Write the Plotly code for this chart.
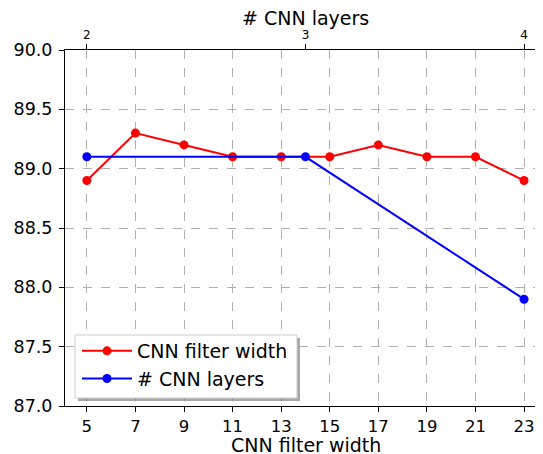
import plotly.graph_objects as go

filter_widths = [5, 7, 9, 11, 13, 15, 17, 19, 21, 23]
filter_scores = [88.9, 89.3, 89.2, 89.1, 89.1, 89.1, 89.2, 89.1, 89.1, 88.9]
layer_counts = [2, 3, 4]
layer_scores = [89.1, 89.1, 87.9]
y_ticks = [87.0, 87.5, 88.0, 88.5, 89.0, 89.5, 90.0]
x_title = "CNN filter width"
x2_title = "# CNN layers"

# page has an 8px body margin; compensate
OFF = 8
W, H = 543 - OFF, 454 - OFF
# desired plot area in page pixels
P_L, P_R, P_T, P_B = 65, 543, 50, 406
ml = P_L - OFF
mr = (W + OFF) - P_R
mt = P_T - OFF
mb = (H + OFF) - P_B
pw = P_R - P_L
ph = P_B - P_T

x_lo, x_hi = 4.1, 23.78


def to_top(v):
    return 2 + (v - 5) / 9.0


def px_x(p):
    return (p - P_L) / pw


def px_y(p):
    return (P_B - p) / ph


font = "DejaVu Sans"

fig = go.Figure()
fig.add_trace(go.Scatter(
    x=filter_widths, y=filter_scores, mode="lines+markers",
    name="CNN filter width", line=dict(color="red", width=2),
    marker=dict(color="red", size=9), xaxis="x", yaxis="y"))
fig.add_trace(go.Scatter(
    x=layer_counts, y=layer_scores, mode="lines+markers",
    name="# CNN layers", line=dict(color="blue", width=2),
    marker=dict(color="blue", size=9), xaxis="x2", yaxis="y"))

# legend frame with shadow, drawn as shapes
fig.add_shape(type="rect", xref="paper", yref="paper",
              x0=px_x(78), x1=px_x(300), y0=px_y(401), y1=px_y(338),
              fillcolor="rgba(110,110,110,0.6)", line=dict(width=0), layer="above")
fig.add_shape(type="rect", xref="paper", yref="paper",
              x0=px_x(75), x1=px_x(297), y0=px_y(398), y1=px_y(335),
              fillcolor="white", line=dict(color="#cccccc", width=1), layer="above")

# axis titles as annotations for exact placement
fig.add_annotation(text=x_title, xref="paper", yref="paper",
                   x=px_x(305.5), y=px_y(445), xanchor="center", yanchor="middle",
                   showarrow=False, borderpad=0,
                   font=dict(size=19, family=font, color="black"))
fig.add_annotation(text=x2_title, xref="paper", yref="paper",
                   x=px_x(305.5), y=px_y(17.5), xanchor="center", yanchor="middle",
                   showarrow=False, borderpad=0,
                   font=dict(size=19, family=font, color="black"))

fig.update_layout(
    width=W, height=H,
    margin=dict(l=ml, r=mr, t=mt, b=mb, pad=0, autoexpand=False),
    paper_bgcolor="white", plot_bgcolor="white",
    font=dict(family=font, color="black"),
    showlegend=True,
    legend=dict(x=px_x(77), y=px_y(332), xanchor="left", yanchor="top",
                bgcolor="rgba(0,0,0,0)", borderwidth=0, itemwidth=50,
                font=dict(size=19, family=font), tracegroupgap=0),
    xaxis=dict(range=[x_lo, x_hi], tickvals=filter_widths, automargin=False,
               ticks="outside", ticklen=5, tickcolor="black",
               showline=True, linecolor="black", linewidth=1,
               showgrid=True, gridcolor="#b0b0b0", griddash="dash", gridwidth=0.8,
               zeroline=False, tickfont=dict(size=16.5)),
    xaxis2=dict(range=[to_top(x_lo), to_top(x_hi)], tickvals=layer_counts,
                overlaying="x", side="top", anchor="y", automargin=False,
                ticks="outside", ticklen=5, tickcolor="black",
                showline=True, linecolor="black", linewidth=1,
                showgrid=False, zeroline=False, tickfont=dict(size=12)),
    yaxis=dict(range=[87.0, 90.0], tickvals=y_ticks, tickformat=".1f", automargin=False,
               ticks="outside", ticklen=5, tickcolor="black", ticklabelstandoff=3,
               showline=True, linecolor="black", linewidth=1,
               showgrid=True, gridcolor="#b0b0b0", griddash="dash", gridwidth=0.8,
               zeroline=False, tickfont=dict(size=17.5)),
)

fig.write_html("out.html")
